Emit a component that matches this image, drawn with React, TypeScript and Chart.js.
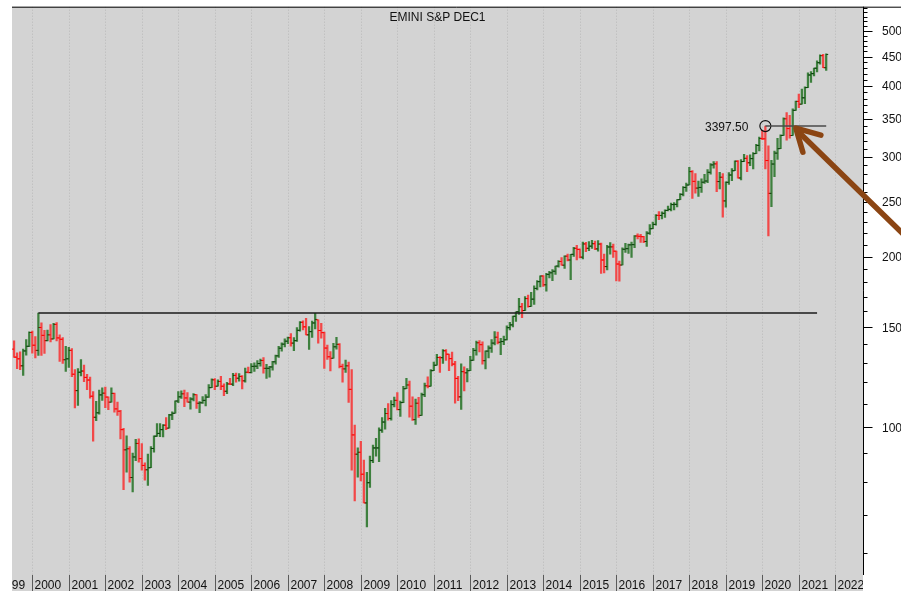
import { useEffect, useRef } from "react";
import { Chart, registerables } from "chart.js";

Chart.register(...registerables);

// ---------------- data ----------------
const TITLE = "EMINI S&P DEC1";
// month index counted from Jan 2000 (= 0); first bar is Jul 1999
const FIRST_MONTH = -6;

// monthly OHLC, Jul 1999 .. Oct 2021
const opens = [
  1373, 1329, 1320, 1283, 1363, 1389,
  1469, 1395, 1366, 1499, 1452, 1421, 1455, 1431, 1518, 1437, 1429, 1315,
  1320, 1366, 1240, 1160, 1250, 1256, 1224, 1211, 1134, 1041, 1060, 1140,
  1148, 1130, 1107, 1147, 1077, 1067, 990, 912, 916, 815, 886, 936,
  880, 856, 841, 848, 917, 964, 975, 990, 1008, 996, 1051, 1058,
  1112, 1131, 1145, 1126, 1107, 1121, 1141, 1102, 1104, 1115, 1130, 1174,
  1212, 1181, 1204, 1181, 1157, 1192, 1191, 1234, 1220, 1229, 1207, 1250,
  1248, 1280, 1281, 1295, 1311, 1270, 1270, 1277, 1304, 1336, 1378, 1401,
  1418, 1438, 1407, 1421, 1482, 1531, 1503, 1455, 1474, 1527, 1546, 1481,
  1468, 1379, 1331, 1323, 1386, 1400, 1280, 1267, 1283, 1166, 969, 896,
  903, 826, 735, 798, 873, 919, 919, 988, 1021, 1057, 1036, 1096,
  1115, 1074, 1105, 1169, 1187, 1089, 1031, 1102, 1049, 1141, 1183, 1181,
  1258, 1286, 1327, 1326, 1364, 1345, 1321, 1292, 1219, 1131, 1253, 1247,
  1258, 1312, 1366, 1409, 1398, 1310, 1362, 1379, 1407, 1441, 1412, 1416,
  1426, 1498, 1515, 1569, 1598, 1631, 1606, 1686, 1633, 1682, 1757, 1806,
  1848, 1783, 1860, 1872, 1884, 1924, 1960, 1931, 2003, 1972, 2018, 2068,
  2059, 1995, 2105, 2068, 2086, 2107, 2063, 2104, 1972, 1920, 2079, 2080,
  2044, 1940, 1932, 2060, 2065, 2097, 2099, 2174, 2171, 2168, 2126, 2199,
  2239, 2279, 2364, 2363, 2384, 2412, 2423, 2470, 2472, 2519, 2575, 2648,
  2674, 2824, 2714, 2641, 2648, 2705, 2718, 2816, 2902, 2914, 2712, 2760,
  2507, 2704, 2785, 2834, 2946, 2752, 2942, 2980, 2927, 2977, 3038, 3141,
  3231, 3226, 2954, 2585, 2912, 3044, 3100, 3271, 3500, 3363, 3270, 3622,
  3756, 3714, 3811, 3973, 4181, 4204, 4298, 4395, 4523, 4307,
];

const highs = [
  1420, 1352, 1358, 1373, 1428, 1473,
  1478, 1445, 1590, 1527, 1482, 1483, 1517, 1525, 1530, 1455, 1439, 1389,
  1383, 1376, 1264, 1269, 1316, 1287, 1240, 1226, 1155, 1111, 1163, 1173,
  1177, 1131, 1173, 1148, 1107, 1071, 995, 965, 924, 900, 952, 954,
  935, 865, 896, 924, 965, 1015, 1015, 1011, 1040, 1054, 1064, 1113,
  1155, 1159, 1163, 1151, 1128, 1146, 1141, 1110, 1132, 1142, 1189, 1217,
  1218, 1212, 1229, 1192, 1200, 1220, 1245, 1246, 1243, 1233, 1271, 1276,
  1295, 1298, 1311, 1318, 1327, 1291, 1280, 1307, 1340, 1389, 1408, 1432,
  1442, 1462, 1439, 1498, 1536, 1541, 1556, 1504, 1539, 1588, 1546, 1524,
  1472, 1396, 1360, 1405, 1440, 1404, 1292, 1313, 1303, 1264, 1008, 919,
  944, 875, 832, 889, 930, 956, 997, 1040, 1080, 1101, 1114, 1130,
  1151, 1112, 1180, 1220, 1206, 1131, 1121, 1129, 1149, 1196, 1227, 1263,
  1303, 1344, 1332, 1371, 1371, 1345, 1357, 1307, 1229, 1293, 1278, 1269,
  1334, 1378, 1419, 1422, 1415, 1364, 1392, 1427, 1475, 1471, 1434, 1448,
  1510, 1531, 1570, 1598, 1687, 1654, 1699, 1710, 1730, 1775, 1814, 1849,
  1851, 1868, 1884, 1897, 1924, 1968, 1991, 2005, 2019, 2018, 2076, 2094,
  2064, 2120, 2118, 2126, 2135, 2130, 2133, 2113, 2021, 2094, 2117, 2104,
  2044, 1963, 2072, 2111, 2104, 2121, 2177, 2194, 2188, 2170, 2214, 2278,
  2301, 2372, 2401, 2398, 2419, 2454, 2484, 2491, 2520, 2583, 2658, 2695,
  2873, 2836, 2802, 2718, 2742, 2792, 2848, 2917, 2941, 2940, 2815, 2800,
  2709, 2814, 2860, 2950, 2954, 2964, 3028, 3014, 3022, 3050, 3154, 3248,
  3338, 3397.5, 3137, 2955, 3069, 3233, 3280, 3515, 3588, 3550, 3646, 3760,
  3871, 3950, 3984, 4219, 4238, 4302, 4430, 4537, 4546, 4555,
];

const lows = [
  1328, 1268, 1263, 1234, 1340, 1387,
  1350, 1325, 1339, 1339, 1349, 1420, 1414, 1431, 1419, 1306, 1295, 1254,
  1275, 1228, 1081, 1092, 1232, 1203, 1165, 1125, 945, 1027, 1054, 1115,
  1082, 1074, 1107, 1063, 1049, 953, 776, 833, 800, 769, 873, 867,
  840, 806, 789, 848, 903, 963, 962, 961, 990, 996, 1031, 1058,
  1105, 1124, 1087, 1107, 1076, 1113, 1079, 1061, 1101, 1090, 1128, 1174,
  1164, 1181, 1164, 1136, 1146, 1188, 1184, 1201, 1205, 1168, 1201, 1247,
  1246, 1254, 1268, 1281, 1245, 1219, 1225, 1261, 1291, 1327, 1361, 1386,
  1404, 1389, 1364, 1416, 1477, 1484, 1454, 1371, 1440, 1490, 1406, 1436,
  1270, 1317, 1257, 1323, 1373, 1272, 1200, 1249, 1106, 840, 741, 816,
  804, 735, 667, 783, 866, 889, 869, 979, 992, 1029, 1029, 1086,
  1072, 1045, 1105, 1169, 1041, 1028, 1011, 1040, 1049, 1132, 1173, 1181,
  1258, 1286, 1249, 1295, 1312, 1258, 1283, 1102, 1114, 1075, 1159, 1202,
  1258, 1312, 1340, 1357, 1292, 1267, 1325, 1355, 1397, 1403, 1343, 1398,
  1426, 1485, 1502, 1536, 1581, 1560, 1605, 1628, 1633, 1647, 1746, 1768,
  1771, 1738, 1834, 1814, 1860, 1916, 1931, 1905, 1964, 1821, 2001, 1973,
  1988, 1981, 2040, 2048, 2068, 2056, 2044, 1867, 1872, 1894, 2019, 1993,
  1812, 1810, 1932, 2034, 2026, 1992, 2074, 2148, 2119, 2115, 2084, 2187,
  2239, 2272, 2322, 2329, 2345, 2406, 2408, 2417, 2447, 2519, 2558, 2606,
  2674, 2533, 2586, 2554, 2595, 2692, 2699, 2796, 2864, 2604, 2631, 2347,
  2444, 2682, 2722, 2834, 2751, 2729, 2941, 2822, 2892, 2856, 3037, 3070,
  3215, 2856, 2174, 2448, 2767, 2966, 3100, 3271, 3210, 3234, 3270, 3622,
  3663, 3714, 3723, 3973, 4057, 4164, 4233, 4368, 4306, 4260,
];

const closes = [
  1329, 1320, 1283, 1363, 1389, 1469,
  1395, 1366, 1499, 1452, 1421, 1455, 1431, 1518, 1437, 1429, 1315, 1320,
  1366, 1240, 1160, 1250, 1256, 1224, 1211, 1134, 1041, 1060, 1140, 1148,
  1130, 1107, 1147, 1077, 1067, 990, 912, 916, 815, 886, 936, 880,
  856, 841, 848, 917, 964, 975, 990, 1008, 996, 1051, 1058, 1112,
  1131, 1145, 1126, 1107, 1121, 1141, 1102, 1104, 1115, 1130, 1174, 1212,
  1181, 1204, 1181, 1157, 1192, 1191, 1234, 1220, 1229, 1207, 1250, 1248,
  1280, 1281, 1295, 1311, 1270, 1270, 1277, 1304, 1336, 1378, 1401, 1418,
  1438, 1407, 1421, 1482, 1531, 1503, 1455, 1474, 1527, 1549, 1481, 1468,
  1379, 1331, 1323, 1386, 1400, 1280, 1267, 1283, 1166, 969, 896, 903,
  826, 735, 798, 873, 919, 919, 988, 1021, 1057, 1036, 1096, 1115,
  1074, 1105, 1169, 1187, 1089, 1031, 1102, 1049, 1141, 1183, 1181, 1258,
  1286, 1327, 1326, 1364, 1345, 1321, 1292, 1219, 1131, 1253, 1247, 1258,
  1312, 1366, 1409, 1398, 1310, 1362, 1379, 1407, 1441, 1412, 1416, 1426,
  1498, 1515, 1569, 1598, 1631, 1606, 1686, 1633, 1682, 1757, 1806, 1848,
  1783, 1860, 1872, 1884, 1924, 1960, 1931, 2003, 1972, 2018, 2068, 2059,
  1995, 2105, 2068, 2086, 2107, 2063, 2104, 1972, 1920, 2079, 2080, 2044,
  1940, 1932, 2060, 2065, 2097, 2099, 2174, 2171, 2168, 2126, 2199, 2239,
  2279, 2364, 2363, 2384, 2412, 2423, 2470, 2472, 2519, 2575, 2648, 2674,
  2824, 2714, 2641, 2648, 2705, 2718, 2816, 2902, 2914, 2712, 2760, 2507,
  2704, 2785, 2834, 2946, 2752, 2942, 2980, 2927, 2977, 3038, 3141, 3231,
  3226, 2954, 2585, 2912, 3044, 3100, 3271, 3500, 3363, 3270, 3622, 3756,
  3714, 3811, 3973, 4181, 4204, 4298, 4395, 4523, 4307, 4545,
];

const yearLabels = [
  "1999", "2000", "2001", "2002", "2003", "2004", "2005", "2006", "2007", "2008",
  "2009", "2010", "2011", "2012", "2013", "2014", "2015", "2016", "2017", "2018",
  "2019", "2020", "2021", "2022",
];
const yMajorTicks = [1000, 1500, 2000, 2500, 3000, 3500, 4000, 4500, 5000];
const yMajorLabels = ["1000", "1500", "2000", "2500", "3000", "3500", "4000", "4500", "5000"];
const Y_MINOR_FROM = 600;
const Y_MINOR_TO = 5500;
const Y_MINOR_STEP = 100;

// annotations
const resistanceLevel = 1590;
const resistanceFrom = 2; // Mar 2000
const resistanceTo = 258; // Jul 2021
const markLevel = 3397.5;
const markFrom = 241; // Feb 2020
const markTo = 261;
const markLabel = "3397.50";
const arrowTipMonth = 250.7;
const arrowTipValue = 3369;

// axis ranges
const X_MIN = -6.674;
const X_MAX = 273.1;
const Y_MIN = 548.5;
const Y_MAX = 5518;

// ---------------- styles ----------------
const BG = "#d3d3d3";
const UP = "#3e803e";
const DOWN = "#f24848";
const UP_TICK = "#0e420e";
const DOWN_TICK = "#ff0000";
const FONT = '12px "Liberation Sans", Arial, sans-serif';

const months = opens.map((_, i) => FIRST_MONTH + i);
const isUp = closes.map((c, i) => c >= opens[i]);

const decorations = {
  id: "decorations",
  beforeDraw(chart: any) {
    const { ctx, chartArea: a, scales } = chart;
    const x = scales.x;
    ctx.save();
    ctx.fillStyle = "#ffffff";
    ctx.fillRect(0, 0, chart.width, chart.height);
    ctx.fillStyle = BG;
    ctx.fillRect(a.left, a.top, a.right - a.left, chart.height - a.top);
    ctx.beginPath();
    ctx.rect(a.left, a.top, a.right - a.left, a.bottom - a.top);
    ctx.clip();
    ctx.strokeStyle = "#b9b9b9";
    ctx.lineWidth = 1;
    ctx.setLineDash([1, 2]);
    yearLabels.forEach((lbl) => {
      const px = Math.round(x.getPixelForValue((Number(lbl) - 2000) * 12)) + 0.5;
      ctx.beginPath();
      ctx.moveTo(px, a.top);
      ctx.lineTo(px, a.bottom);
      ctx.stroke();
    });
    ctx.restore();
  },
  afterDraw(chart: any) {
    const { ctx, chartArea: a, scales } = chart;
    const x = scales.x;
    const y = scales.y;
    ctx.save();
    ctx.font = FONT;
    ctx.fillStyle = "#111";

    // top border
    ctx.strokeStyle = "#000";
    ctx.lineWidth = 1;
    ctx.beginPath();
    ctx.moveTo(a.left, a.top + 0.5);
    ctx.lineTo(chart.width, a.top + 0.5);
    ctx.stroke();

    // right axis
    const ax = Math.round(a.right) + 0.5;
    ctx.beginPath();
    ctx.moveTo(ax, a.top);
    ctx.lineTo(ax, a.bottom);
    ctx.stroke();
    for (let v = Y_MINOR_FROM; v <= Y_MINOR_TO; v += Y_MINOR_STEP) {
      const py = Math.round(y.getPixelForValue(v)) + 0.5;
      const major = yMajorTicks.includes(v);
      ctx.beginPath();
      ctx.moveTo(ax, py);
      ctx.lineTo(ax + (major ? 9 : 4), py);
      ctx.stroke();
    }
    ctx.textAlign = "left";
    ctx.textBaseline = "alphabetic";
    yMajorTicks.forEach((v, i) => {
      const py = y.getPixelForValue(v);
      ctx.fillText(yMajorLabels[i], ax + 18.5, Math.round(py + 4.5));
    });

    // year label row
    ctx.save();
    ctx.beginPath();
    ctx.rect(a.left, a.bottom, a.right - a.left, chart.height - a.bottom);
    ctx.clip();
    ctx.strokeStyle = "#5a5a5a";
    yearLabels.forEach((lbl) => {
      const px = Math.round(x.getPixelForValue((Number(lbl) - 2000) * 12)) + 0.5;
      ctx.beginPath();
      ctx.moveTo(px, a.bottom);
      ctx.lineTo(px, chart.height);
      ctx.stroke();
      ctx.fillText(lbl, px + 2, chart.height - 2);
    });
    ctx.restore();

    // title
    ctx.textAlign = "center";
    ctx.fillText(TITLE, (a.left + a.right) / 2, a.top + 14);

    // mark label
    const cx = x.getPixelForValue(markFrom);
    const cy = y.getPixelForValue(markLevel);
    ctx.textAlign = "right";
    ctx.fillText(markLabel, cx - 17, Math.round(cy + 4.5));

    // arrow
    const tx = x.getPixelForValue(arrowTipMonth);
    const ty = y.getPixelForValue(arrowTipValue);
    ctx.strokeStyle = "#8b4513";
    ctx.lineWidth = 5.5;
    ctx.lineCap = "round";
    ctx.lineJoin = "round";
    ctx.beginPath();
    ctx.moveTo(tx + 3, ty + 3);
    ctx.lineTo(tx + 130, ty + 127);
    ctx.stroke();
    ctx.beginPath();
    ctx.moveTo(tx + 26, ty + 7);
    ctx.lineTo(tx + 1, ty);
    ctx.lineTo(tx + 8, ty + 24);
    ctx.stroke();
    ctx.restore();
  },
};

export default function App() {
  const ref = useRef<HTMLCanvasElement>(null);
  useEffect(() => {
    const canvas = ref.current;
    if (!canvas) return;
    const chart = new Chart(canvas, {
      type: "bar",
      data: {
        datasets: [
          {
            type: "line",
            data: [
              { x: resistanceFrom, y: resistanceLevel },
              { x: resistanceTo, y: resistanceLevel },
            ],
            borderColor: "#1a1a1a",
            borderWidth: 1.5,
            pointRadius: 0,
          },
          {
            type: "line",
            data: [
              { x: markFrom, y: markLevel },
              { x: markTo, y: markLevel },
            ],
            borderColor: "#4a4a4a",
            borderWidth: 1.5,
            pointRadius: 0,
          },
          {
            type: "scatter",
            data: [{ x: markFrom, y: markLevel }],
            pointRadius: 5.5,
            pointBorderWidth: 1.2,
            pointBorderColor: "#111",
            pointBackgroundColor: "rgba(0,0,0,0)",
          },
          {
            type: "scatter",
            data: months.map((m, i) => ({ x: m - 0.33, y: opens[i] })),
            pointStyle: "line",
            pointRadius: 1,
            pointBorderWidth: 1,
            pointBorderColor: isUp.map((u) => (u ? UP_TICK : DOWN_TICK)),
          },
          {
            type: "scatter",
            data: months.map((m, i) => ({ x: m + 0.33, y: closes[i] })),
            pointStyle: "line",
            pointRadius: 1,
            pointBorderWidth: 1,
            pointBorderColor: isUp.map((u) => (u ? UP_TICK : DOWN_TICK)),
          },
          {
            type: "bar",
            data: months.map((m, i) => ({ x: m, y: [lows[i], highs[i]] })) as any,
            backgroundColor: isUp.map((u) => (u ? UP : DOWN)),
            barThickness: 1.6,
            grouped: false,
          } as any,
        ],
      },
      options: {
        animation: false,
        responsive: false,
        devicePixelRatio: 1,
        events: [],
        layout: { padding: { left: 12, right: 38, top: 5, bottom: 16 } },
        plugins: { legend: { display: false }, tooltip: { enabled: false }, title: { display: false } },
        scales: {
          x: { type: "linear", display: false, min: X_MIN, max: X_MAX, bounds: "data", offset: false },
          y: { type: "logarithmic", display: false, min: Y_MIN, max: Y_MAX, bounds: "data" },
        },
      } as any,
      plugins: [decorations],
    });
    return () => chart.destroy();
  }, []);
  return (
    <div style={{ position: "absolute", left: 0, top: 0, width: 901, height: 591 }}>
      <canvas ref={ref} width={901} height={591} style={{ display: "block", width: 901, height: 591 }} />
    </div>
  );
}
